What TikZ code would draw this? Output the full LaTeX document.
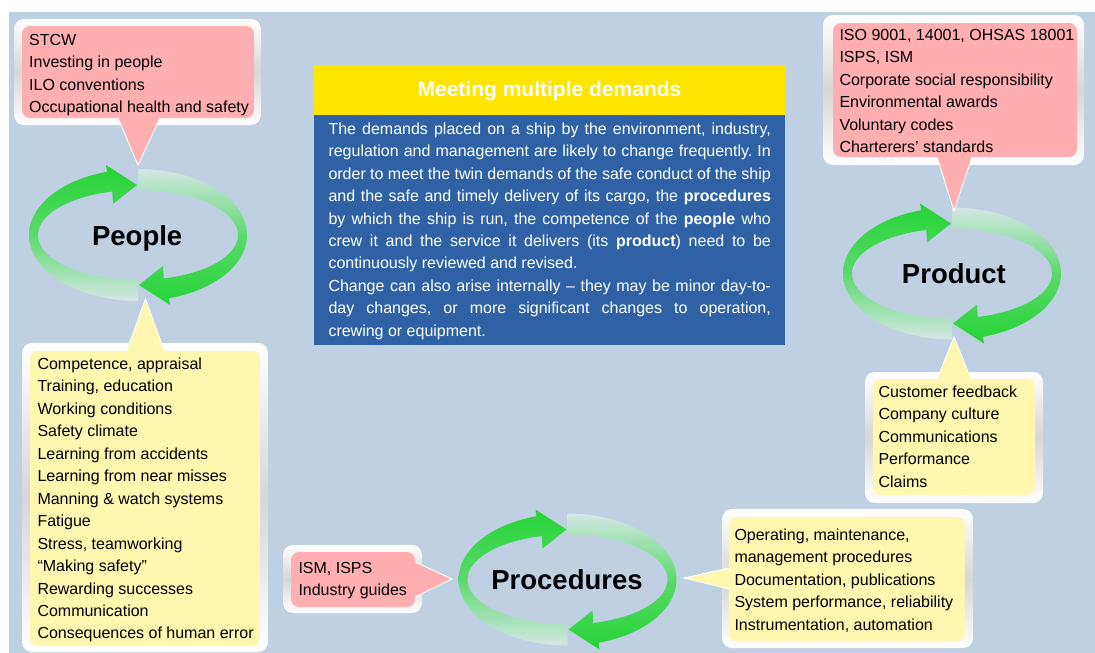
\documentclass[tikz,border=0pt]{standalone}
\usepackage{fontspec}
\setmainfont{Liberation Sans}
\frenchspacing

\definecolor{pagebg}{HTML}{BFD0E2}
\definecolor{calloutpink}{HTML}{FFAFAF}
\definecolor{calloutyellow}{HTML}{FFF6B0}
\definecolor{arrowgreen}{HTML}{24D435}
\definecolor{arrowmid}{HTML}{58D969}
\definecolor{arrowpale}{HTML}{D4E7E5}
\definecolor{titleyellow}{HTML}{FFE500}
\definecolor{panelblue}{HTML}{2E62A4}

\tikzset{
  framebox/.style={rounded corners=10pt, top color=white, bottom color=white, middle color=black!16},
  pinkpanel/.style={fill=calloutpink, rounded corners=8pt},
  yellowpanel/.style={fill=calloutyellow, rounded corners=8pt},
  pointeredge/.style={draw=white, line width=0.9pt, line join=miter},
  listtext/.style={anchor=north west, inner sep=0pt, align=left,
    font=\fontsize{16}{22.45}\selectfont},
  cyclelabel/.style={anchor=base, inner sep=0pt, font=\fontsize{27.5}{30}\selectfont\bfseries},
}

% strut that fixes the height of a block's first line
\newcommand{\firstrule}{\rule{0pt}{12.5pt}}

% two curved arrows chasing each other round an ellipse
\newcommand{\ringarrows}[2]{%
  \begin{scope}[shift={(#1,#2)}]
    \shade[top color=arrowgreen, bottom color=arrowpale, middle color=arrowmid]
      (0,66) -- plot[domain=90:253.5,samples=50] ({109*cos(\x)},{66*sin(\x)})
      -- (-32,-70) -- (-1,-50) -- (-25,-31)
      -- plot[domain=255.07:90,samples=50] ({100*cos(\x)},{45*sin(\x)}) -- cycle;
    \shade[top color=arrowpale, bottom color=arrowgreen, middle color=arrowmid]
      (0,-66) -- plot[domain=90:253.5,samples=50] ({-109*cos(\x)},{-66*sin(\x)})
      -- (32,70) -- (1,50) -- (25,31)
      -- plot[domain=255.07:90,samples=50] ({-100*cos(\x)},{-45*sin(\x)}) -- cycle;
  \end{scope}}

\begin{document}
\begin{tikzpicture}[x=1pt,y=-1pt]
\useasboundingbox (0,0) rectangle (1095,653);
\fill[white] (0,0) rectangle (1095,653);
\fill[pagebg] (9,12) rectangle (1095,653);

% ---- cycles ----
\ringarrows{138}{235}
\ringarrows{567.5}{579.5}
\ringarrows{952}{273.5}
\node[cyclelabel] (people) at (137.2,245) {People};
\node[cyclelabel] (procedures) at (567,589.3) {Procedures};
\node[cyclelabel] (product) at (953.9,283.3) {Product};

% ---- People: regulation (pink) ----
\shade[framebox] (14,19) rectangle (261,125);
\fill[pinkpanel] (22,26) rectangle (254,118);
\fill[calloutpink] (118,116) -- (118,118) -- (138,165) -- (160,118) -- (160,116) -- cycle;
\draw[pointeredge] (118,118) -- (138,165) -- (160,118);
\node[listtext] (peoplereg) at (29,32.5) {\firstrule STCW\\Investing in people\\ILO conventions\\Occupational health and safety};

% ---- People: internal factors (yellow) ----
\shade[framebox] (22,343) rectangle (268,652);
\fill[yellowpanel] (30,351) rectangle (260,646);
\fill[calloutyellow] (126.5,353) -- (126.5,351) -- (145.5,299) -- (164.5,351) -- (164.5,353) -- cycle;
\draw[pointeredge] (126.5,351) -- (145.5,299) -- (164.5,351);
\node[listtext] (peopleint) at (37.3,356.8) {\firstrule Competence, appraisal\\Training, education\\Working conditions\\Safety climate\\Learning from accidents\\Learning from near misses\\Manning \& watch systems\\Fatigue\\Stress, teamworking\\“Making safety”\\Rewarding successes\\Communication\\Consequences of human error};

% ---- Procedures: regulation (pink) ----
\shade[framebox] (283,545) rectangle (422,613);
\fill[pinkpanel] (291,552) rectangle (415,607);
\fill[calloutpink] (413,562) -- (415,562) -- (452,579) -- (415,597) -- (413,597) -- cycle;
\draw[pointeredge] (415,562) -- (452,579) -- (415,597);
\node[listtext] (procreg) at (298.3,560.8) {\firstrule ISM, ISPS\\Industry guides};

% ---- Procedures: internal factors (yellow) ----
\shade[framebox] (722,509) rectangle (973,648);
\fill[yellowpanel] (729,517) rectangle (965,641);
\fill[calloutyellow] (731,568) -- (729,568) -- (684,578) -- (729,589) -- (731,589) -- cycle;
\draw[pointeredge] (729,568) -- (684,578) -- (729,589);
\node[listtext] (procint) at (734.3,527.5) {\firstrule Operating, maintenance,\\management procedures\\Documentation, publications\\System performance, reliability\\Instrumentation, automation};

% ---- Product: regulation (pink) ----
\shade[framebox] (823,15) rectangle (1084,165);
\fill[pinkpanel] (833,23) rectangle (1077,157);
\fill[calloutpink] (937,155) -- (937,157) -- (954,211) -- (972,157) -- (972,155) -- cycle;
\draw[pointeredge] (937,157) -- (954,211) -- (972,157);
\node[listtext] (prodreg) at (839.3,27.5) {\firstrule ISO 9001, 14001, OHSAS 18001\\ISPS, ISM\\Corporate social responsibility\\Environmental awards\\Voluntary codes\\Charterers’ standards};

% ---- Product: internal factors (yellow) ----
\shade[framebox] (865,372) rectangle (1043,503);
\fill[yellowpanel] (873,379) rectangle (1035,495);
\fill[calloutyellow] (937,381) -- (937,379) -- (954,337) -- (971,379) -- (971,381) -- cycle;
\draw[pointeredge] (937,379) -- (954,337) -- (971,379);
\node[listtext] (prodint) at (878.3,384.8) {\firstrule Customer feedback\\Company culture\\Communications\\Performance\\Claims};

% ---- central panel ----
\fill[titleyellow] (314,65) rectangle (785,115);
\fill[panelblue] (314,115) rectangle (785,345);
\node[anchor=base, inner sep=0pt, text=white, font=\fontsize{21}{24}\selectfont\bfseries] (title) at (549.5,96) {Meeting multiple demands};
\node[anchor=north west, inner sep=0pt, text width=442.4pt, align=justify, text=white,
      font=\fontsize{16}{22.4}\selectfont] (body) at (328.3,121.8)
 {\setlength{\parindent}{0pt}\firstrule The demands placed on a ship by the environment, industry,\linebreak
  regulation and management are likely to change frequently. In\linebreak
  order to meet the twin demands of the safe conduct of the ship\linebreak
  and the safe and timely delivery of its cargo, the \textbf{procedures}\linebreak
  by which the ship is run, the competence of the \textbf{people} who\linebreak
  crew it and the service it delivers (its \textbf{product}) need to be\linebreak
  continuously reviewed and revised.\par
  Change can also arise internally – they may be minor day-to-\linebreak
  day changes, or more significant changes to operation,\linebreak
  crewing or equipment.};
\end{tikzpicture}
\end{document}
